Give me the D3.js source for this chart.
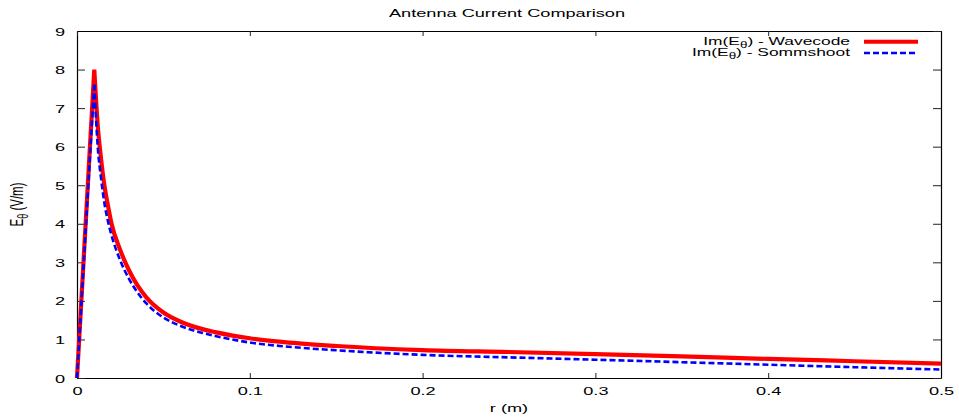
<!DOCTYPE html>
<html>
<head>
<meta charset="utf-8">
<script src="https://cdn.jsdelivr.net/npm/d3@7"></script>
<style>
body { margin: 0; background: #fff; }
text { font-family: "Liberation Sans", Arial, sans-serif; font-size: 11.5px; fill: #000; }
</style>
</head>
<body>
<svg width="959" height="419"></svg>
<script>
// values
var rVals     = [0, 0.01, 0.012, 0.014, 0.016, 0.018, 0.02, 0.025, 0.03, 0.035, 0.04, 0.05, 0.06, 0.07, 0.08, 0.1, 0.12, 0.15, 0.2, 0.25, 0.3, 0.35, 0.4, 0.45, 0.5];
var wavecode  = [0, 8.0, 6.55, 5.65, 4.95, 4.45, 4.0, 3.32, 2.8, 2.4, 2.1, 1.7, 1.46, 1.3, 1.19, 1.03, 0.93, 0.83, 0.725, 0.675, 0.62, 0.56, 0.495, 0.435, 0.375];
var sommshoot = [0, 7.65, 6.0, 5.15, 4.5, 4.05, 3.7, 3.05, 2.58, 2.22, 1.94, 1.57, 1.35, 1.2, 1.09, 0.92, 0.82, 0.72, 0.6, 0.535, 0.475, 0.41, 0.345, 0.28, 0.22];
var xTicks = [0, 0.1, 0.2, 0.3, 0.4, 0.5];
var yTicks = [0, 1, 2, 3, 4, 5, 6, 7, 8, 9];

var SX = 1.58; // text looks stretched sideways in the original

var svg = d3.select("svg");
var mLeft = 77, mRight = 941, mTop = 31, mBottom = 378;

var x = d3.scaleLinear().domain([0, 0.5]).range([mLeft, mRight]);
var y = d3.scaleLinear().domain([0, 9]).range([mBottom, mTop]);

// bottom axis with labels
var gx = svg.append("g")
    .attr("transform", "translate(0," + mBottom + ")")
    .call(d3.axisBottom(x).tickValues(xTicks).tickSizeInner(-5).tickSizeOuter(0).tickFormat(d3.format("~g")));
gx.selectAll("text")
    .attr("y", null).attr("dy", null)
    .attr("text-anchor", "middle")
    .attr("transform", "translate(0,16.5) scale(" + SX + ",1)");

// left axis with labels
var gy = svg.append("g")
    .attr("transform", "translate(" + mLeft + ",0)")
    .call(d3.axisLeft(y).tickValues(yTicks).tickSizeInner(-8).tickSizeOuter(0));
gy.selectAll("text")
    .attr("x", null).attr("dy", null)
    .attr("text-anchor", "end")
    .attr("transform", "translate(-12,4) scale(" + SX + ",1)");

// mirrored ticks
svg.append("g")
    .attr("transform", "translate(0," + mTop + ")")
    .call(d3.axisTop(x).tickValues(xTicks).tickSizeInner(-5).tickSizeOuter(0).tickFormat(""));
svg.append("g")
    .attr("transform", "translate(" + mRight + ",0)")
    .call(d3.axisRight(y).tickValues(yTicks).tickSizeInner(-8).tickSizeOuter(0).tickFormat(""));

svg.selectAll(".domain").attr("stroke", "#000").attr("stroke-width", 1.2);
svg.selectAll(".tick line").attr("stroke", "#222");

// curves: straight rise to the peak, smooth decay after it
var smooth = d3.line()
    .x(function(d) { return x(d[0]); })
    .y(function(d) { return y(d[1]); })
    .curve(d3.curveMonotoneX);

function curvePath(vals) {
    var pts = d3.zip(rVals, vals);
    var decay = smooth(pts.slice(1));
    return "M" + x(pts[0][0]) + "," + y(pts[0][1]) + "L" + decay.slice(1);
}

svg.append("path")
    .attr("fill", "none")
    .attr("stroke", "#ff0000")
    .attr("stroke-width", 4.2)
    .attr("d", curvePath(wavecode));

svg.append("path")
    .attr("fill", "none")
    .attr("stroke", "#0000ff")
    .attr("stroke-width", 2.6)
    .attr("stroke-dasharray", "6,3")
    .attr("d", curvePath(sommshoot));

// title and axis labels
svg.append("text")
    .attr("text-anchor", "middle")
    .attr("transform", "translate(" + ((mLeft + mRight) / 2 - 2) + ",17) scale(" + SX + ",1)")
    .text("Antenna Current Comparison");

svg.append("text")
    .attr("text-anchor", "middle")
    .attr("transform", "translate(" + (mLeft + mRight) / 2 + ",412) scale(" + SX + ",1)")
    .text("r (m)");

var ylab = svg.append("text")
    .attr("text-anchor", "middle")
    .attr("transform", "translate(23," + (mTop + mBottom) / 2 + ") scale(" + SX + ",1) rotate(-90)");
ylab.append("tspan").text("E");
ylab.append("tspan").attr("font-size", "9px").attr("dy", 3).text("\u03b8");
ylab.append("tspan").attr("dy", -3).text(" (V/m)");

// legend
var legend = [
    {name: " - Wavecode", color: "#ff0000", width: 4, dash: null, ty: 45, ly: 41.7},
    {name: " - Sommshoot", color: "#0000ff", width: 2.6, dash: "6,3", ty: 56, ly: 53}
];
legend.forEach(function(d) {
    var t = svg.append("text")
        .attr("text-anchor", "end")
        .style("font-size", "11px")
        .attr("transform", "translate(850," + d.ty + ") scale(" + SX + ",1)");
    t.append("tspan").text("Im(E");
    t.append("tspan").attr("font-size", "8.5px").attr("dy", 2.5).text("\u03b8");
    t.append("tspan").attr("dy", -2.5).text(")" + d.name);
    svg.append("line")
        .attr("x1", 864).attr("x2", 918)
        .attr("y1", d.ly).attr("y2", d.ly)
        .attr("stroke", d.color)
        .attr("stroke-width", d.width)
        .attr("stroke-dasharray", d.dash);
});
</script>
</body>
</html>
